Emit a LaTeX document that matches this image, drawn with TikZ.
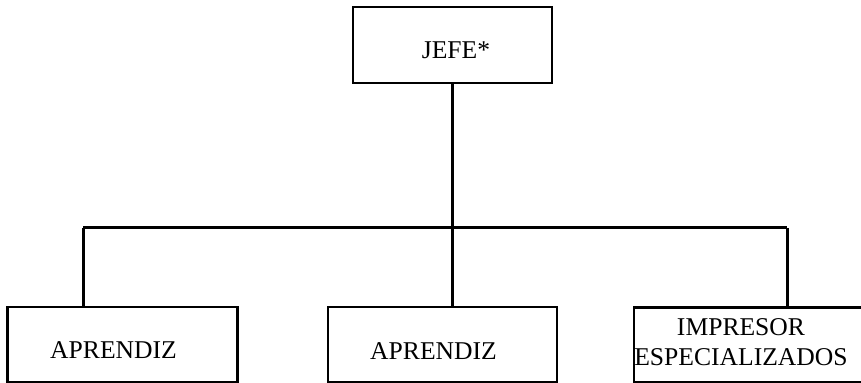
\documentclass[tikz,border=0pt]{standalone}
\usepackage{fontspec}
\setmainfont{Liberation Serif}
\begin{document}
\begin{tikzpicture}[x=0.5pt, y=-0.5pt, line width=1.5pt]

    \tikzset{
        puesto/.style={draw, rectangle, line width=1.1pt, inner sep=0pt,
                       minimum width=115pt, minimum height=37.5pt},
        rotulo/.style={font=\fontsize{12.8}{15}\selectfont, align=center}
    }

    \useasboundingbox (0,0) rectangle (861,383);

    % -- Jefe in alto --
    \node[puesto, minimum width=99.5pt, minimum height=38pt] (jefe) at (452.5,45) {};
    \node[rotulo] (tjefe) at (456,50) {JEFE*};

    % -- Fila in basso --
    \node[puesto] (aprA) at (122.5,344.5) {};
    \node[rotulo] (taprA) at (113.5,350) {APRENDIZ};

    \node[puesto, minimum width=114.5pt] (aprB) at (442.5,344.5) {};
    \node[rotulo] (taprB) at (433.5,351) {APRENDIZ};

    % la casella di destra esce dal margine
    \node[puesto, minimum width=140pt] (impr) at (774,345) {};
    \node[rotulo] (timpr) at (741,342) {IMPRESOR\\ESPECIALIZADOS};

    % -- Linea orizzontale e collegamenti --
    \coordinate (busL) at (83,228);
    \coordinate (busR) at (787,228);

    \draw (jefe.south) -- (jefe.south |- busL);
    \draw (busL) -- (busR);
    \draw (busL) -- (busL |- aprA.north);
    \draw (jefe.south |- busL) -- (jefe.south |- aprB.north);
    \draw (busR) -- (busR |- impr.north);
\end{tikzpicture}
\end{document}
